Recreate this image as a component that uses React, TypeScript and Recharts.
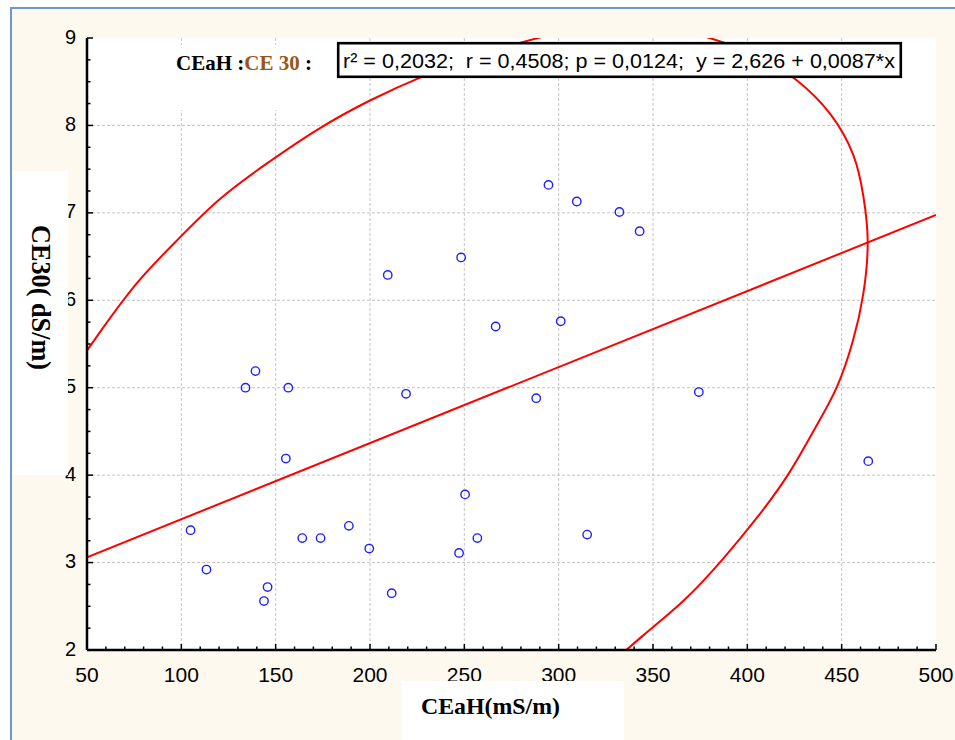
import React from 'react';
import { ComposedChart, Scatter, Line, XAxis, YAxis, CartesianGrid } from 'recharts';

// measured samples: CEaH (mS/m) and CE30 (dS/m)
const CEAH = [104.9, 113.3, 134.0, 139.3, 156.7, 155.4, 145.7, 143.8, 164.1, 173.8, 188.8, 199.6, 211.5, 209.4, 219.1, 248.3, 250.4, 247.2, 256.9, 266.6, 294.6, 309.6, 332.2, 342.9, 301.1, 288.1, 374.3, 315.1, 464.1];
const CE30 = [3.37, 2.92, 5.0, 5.19, 5.0, 4.19, 2.72, 2.56, 3.28, 3.28, 3.42, 3.16, 2.65, 6.29, 4.93, 6.49, 3.78, 3.11, 3.28, 5.7, 7.32, 7.13, 7.01, 6.79, 5.76, 4.88, 4.95, 3.32, 4.16];

// regression y = 2,626 + 0,0087*x
const INTERCEPT = 2.626;
const SLOPE = 0.0087;

// 95% ellipse (two visible arcs, roughly even spacing)
const LEFT_ARC_X = [40, 58, 77, 97, 120, 145, 172, 200, 229, 259, 290, 320];
const LEFT_ARC_Y = [5.12, 5.67, 6.21, 6.67, 7.15, 7.56, 7.95, 8.285, 8.57, 8.81, 9.005, 9.155];
// right arc listed from the bottom up
const RIGHT_ARC_X = [320, 345, 367, 387, 405, 422, 436, 447.3, 456, 461.5, 463.8, 461.5, 456.2, 444, 426, 405, 380, 355];
const RIGHT_ARC_Y = [1.7, 2.17, 2.58, 3.04, 3.51, 4.02, 4.54, 5.0, 5.54, 6.08, 6.67, 7.19, 7.66, 8.13, 8.52, 8.8, 9.0, 9.15];

const X_TICKS = [50, 100, 150, 200, 250, 300, 350, 400, 450, 500];
const Y_TICKS = [2, 3, 4, 5, 6, 7, 8, 9];

const X_MIN = 50, X_MAX = 500, Y_MIN = 2, Y_MAX = 9;
const X_MINOR = Array.from({ length: 46 }, (_, i) => X_MIN + i * 10);
const Y_MINOR = Array.from({ length: 29 }, (_, i) => Y_MIN + i * 0.25);

const points = CEAH.map((x, i) => ({ x, y: CE30[i] }));
const regLine = [X_MIN, X_MAX].map((x) => ({ x, y: INTERCEPT + SLOPE * x }));
const leftArc = LEFT_ARC_X.map((x, i) => ({ x, y: LEFT_ARC_Y[i] }));
const rightArc = RIGHT_ARC_X.map((x, i) => ({ x, y: RIGHT_ARC_Y[i] }));

const SANS = '"Liberation Sans", Arial, sans-serif';
const SERIF = '"Liberation Serif", "Times New Roman", serif';
const RED = '#ff0000';
const BLUE = '#2020ff';
const AXIS = { stroke: '#000', strokeWidth: 2.5 };

const BottomTick = ({ x, y, payload }: any) => {
  const major = X_TICKS.includes(payload.value);
  return (
    <g>
      <line x1={x} x2={x} y1={y} y2={y - (major ? 6 : 3.5)} stroke="#000" strokeWidth={1.5} />
      {major && (
        <text x={x} y={y + 24} textAnchor="middle" dominantBaseline="central" fontFamily={SANS} fontSize={21} fill="#000">
          {payload.value}
        </text>
      )}
    </g>
  );
};

const TopTick = ({ x, y, payload }: any) => {
  const major = X_TICKS.includes(payload.value);
  return <line x1={x} x2={x} y1={y} y2={y + (major ? 6 : 3.5)} stroke="#000" strokeWidth={1.5} />;
};

const LeftTick = ({ x, y, payload }: any) => {
  const major = Number.isInteger(payload.value);
  return (
    <g>
      <line x1={x} x2={x + (major ? 6 : 3.5)} y1={y} y2={y} stroke="#000" strokeWidth={1.5} />
      {major && (
        <text x={x - 11} y={y - 1.5} textAnchor="end" dominantBaseline="central" fontFamily={SANS} fontSize={20} fill="#000">
          {payload.value}
        </text>
      )}
    </g>
  );
};

const RightTick = ({ x, y, payload }: any) => {
  const major = Number.isInteger(payload.value);
  return <line x1={x} x2={x - (major ? 6 : 3.5)} y1={y} y2={y} stroke="#000" strokeWidth={1.5} />;
};

const Dot = (p: any) => <circle cx={p.cx} cy={p.cy} r={4.2} fill="none" stroke={BLUE} strokeWidth={1.4} />;

export default function App() {
  return (
    <div style={{ position: 'fixed', left: 0, top: 0, width: 955, height: 740, overflow: 'hidden', background: '#fff' }}>
      <div
        style={{
          position: 'absolute', left: 10, top: 7, width: 960, height: 750,
          borderLeft: '2px solid #6a98cf', borderTop: '2px solid #6a98cf', background: '#fef9ee',
        }}
      />
      <div style={{ position: 'absolute', left: 0, top: 0 }}>
        <ComposedChart width={955} height={740} margin={{ top: 38, right: 19, bottom: 60, left: 27 }}>
          <CartesianGrid
            fill="#fff"
            stroke="#c4c4c4"
            strokeDasharray="3 2"
            verticalValues={X_TICKS.slice(1, -1)}
            horizontalValues={Y_TICKS.slice(1, -1)}
          />
          <XAxis
            type="number" dataKey="x" domain={[X_MIN, X_MAX]} allowDataOverflow
            ticks={X_MINOR} interval={0} tickSize={0} tickMargin={0} tickLine={false}
            axisLine={AXIS} height={30} tick={BottomTick}
          />
          <XAxis
            xAxisId="top" orientation="top" mirror type="number" dataKey="x" domain={[X_MIN, X_MAX]} allowDataOverflow
            ticks={X_MINOR} interval={0} tickSize={0} tickMargin={0} tickLine={false}
            axisLine={AXIS} height={0} tick={TopTick}
          />
          <YAxis
            type="number" dataKey="y" domain={[Y_MIN, Y_MAX]} allowDataOverflow
            ticks={Y_MINOR} interval={0} tickSize={0} tickMargin={0} tickLine={false}
            axisLine={AXIS} width={60} tick={LeftTick}
          />
          <YAxis
            yAxisId="right" orientation="right" mirror type="number" dataKey="y" domain={[Y_MIN, Y_MAX]} allowDataOverflow
            ticks={Y_MINOR} interval={0} tickSize={0} tickMargin={0} tickLine={false}
            axisLine={AXIS} width={0} tick={RightTick}
          />
          <Line data={leftArc} dataKey="y" type="natural" stroke={RED} strokeWidth={2} dot={false} activeDot={false} isAnimationActive={false} legendType="none" />
          <Line data={rightArc} dataKey="y" type="natural" stroke={RED} strokeWidth={2} dot={false} activeDot={false} isAnimationActive={false} legendType="none" />
          <Line data={regLine} dataKey="y" type="linear" stroke={RED} strokeWidth={2} dot={false} activeDot={false} isAnimationActive={false} legendType="none" />
          <Scatter data={points} dataKey="y" shape={Dot} isAnimationActive={false} legendType="none" />
        </ComposedChart>
      </div>
      <svg width={955} height={740} style={{ position: 'absolute', left: 0, top: 0, pointerEvents: 'none' }}>
        <rect x={94} y={45} width={243} height={65} fill="#fff" />
        <text x={176} y={70} fontFamily={SERIF} fontWeight="bold" fontSize={21} style={{ whiteSpace: 'pre' }}>
          <tspan fill="#000">CEaH :</tspan>
          <tspan fill="#9a5517">CE 30</tspan>
          <tspan fill="#000"> :</tspan>
        </text>
        <rect x={338.2} y={43.2} width={562.6} height={33.6} fill="#fff" stroke="#000" strokeWidth={2.6} />
        <text x={343} y={68} fontFamily={SANS} fontSize={20} fill="#000" textLength={552} lengthAdjust="spacingAndGlyphs" style={{ whiteSpace: 'pre' }}>
          {'r² = 0,2032;  r = 0,4508; p = 0,0124;  y = 2,626 + 0,0087*x'}
        </text>
        <rect x={13} y={171} width={55} height={304} fill="#fff" />
        <text
          transform="translate(32 297.5) rotate(90)"
          textAnchor="middle" fontFamily={SERIF} fontWeight="bold" fontSize={28} fill="#000"
          textLength={145} lengthAdjust="spacingAndGlyphs"
        >
          CE30( dS/m)
        </text>
        <rect x={402} y={681} width={222} height={70} fill="#fff" />
        <text x={421} y={714} fontFamily={SERIF} fontWeight="bold" fontSize={23} fill="#000" textLength={139} lengthAdjust="spacingAndGlyphs">
          CEaH(mS/m)
        </text>
      </svg>
    </div>
  );
}
